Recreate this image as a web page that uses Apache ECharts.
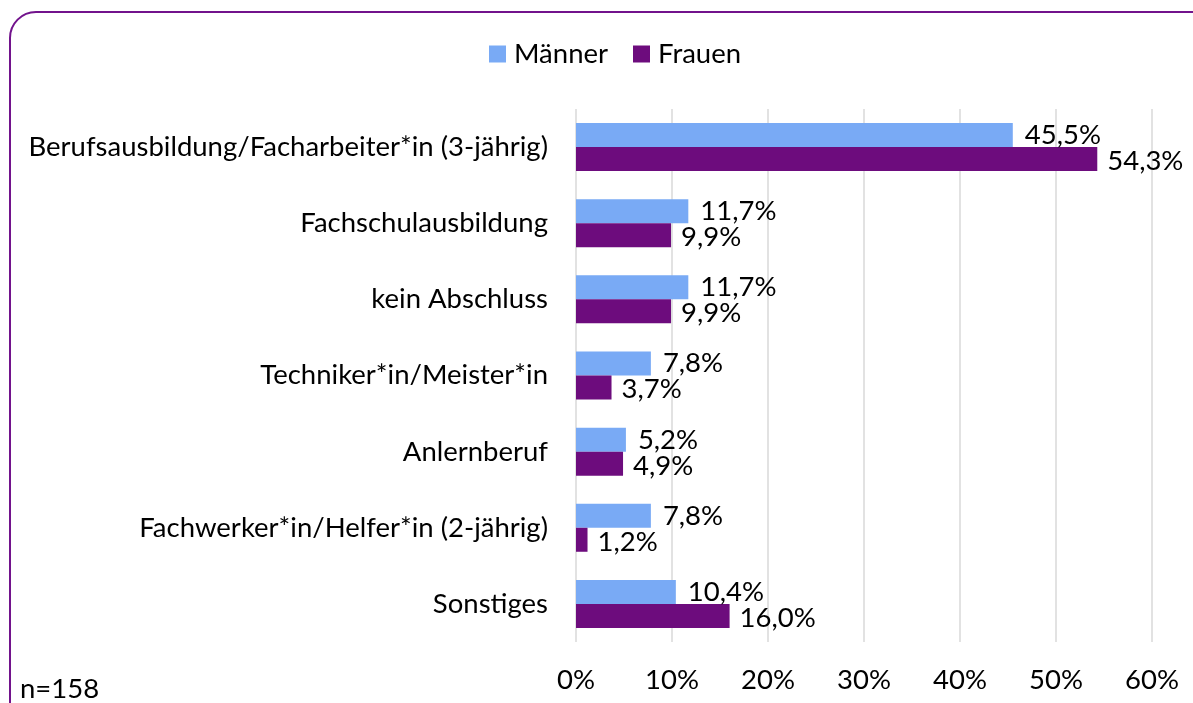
<!DOCTYPE html>
<html><head><meta charset="utf-8">
<script src="https://cdn.jsdelivr.net/npm/echarts@6/dist/echarts.min.js"></script>
<style>html,body{margin:0;padding:0;background:#fff}#c{width:1193px;height:703px}</style>
</head><body><div id="c"></div>
<script>
const categories = ["Berufsausbildung/Facharbeiter*in (3-jährig)", "Fachschulausbildung", "kein Abschluss", "Techniker*in/Meister*in", "Anlernberuf", "Fachwerker*in/Helfer*in (2-jährig)", "Sonstiges"];
const maenner = [45.5, 11.7, 11.7, 7.8, 5.2, 7.8, 10.4];
const frauen = [54.3, 9.9, 9.9, 3.7, 4.9, 1.2, 16.0];
const seriesNames = ["Männer", "Frauen"];
const xTicks = [0, 10, 20, 30, 40, 50, 60];
const note = "n=158";

const FONT = "Lato";
const FS = 27.5;
const fmt = v => v.toFixed(1).replace('.', ',') + '%';
const chart = echarts.init(document.getElementById('c'), null, {renderer: 'canvas'});
chart.setOption({
  animation: false,
  backgroundColor: '#fff',
  textStyle: {fontFamily: FONT},
  legend: {
    top: 35, left: 484, itemWidth: 17, itemHeight: 17, itemGap: 25,
    icon: 'rect',
    textStyle: {fontFamily: FONT, fontSize: FS, color: '#000', padding: [0, 0, 0, 3]},
    data: seriesNames
  },
  grid: {left: 576, right: 41, top: 109, bottom: 61, containLabel: false},
  xAxis: {
    type: 'value', min: xTicks[0], max: xTicks[xTicks.length - 1], interval: 10,
    axisLine: {show: false}, axisTick: {show: false},
    splitLine: {lineStyle: {color: '#D9D9D9', width: 1.5}},
    axisLabel: {fontFamily: FONT, fontSize: FS, color: '#000', margin: 24, formatter: v => v + '%'}
  },
  yAxis: {
    type: 'category', data: categories, inverse: true,
    axisLine: {show: false}, axisTick: {show: false},
    axisLabel: {fontFamily: FONT, fontSize: FS, color: '#000', margin: 28}
  },
  series: [
    {name: seriesNames[0], type: 'bar', data: maenner, barGap: '0%', barCategoryGap: '37%',
     itemStyle: {color: '#79AAF5'},
     label: {show: true, position: 'right', distance: 12, offset: [0, 0], fontFamily: FONT, fontSize: FS, color: '#000', formatter: p => fmt(p.value)}},
    {name: seriesNames[1], type: 'bar', data: frauen, barGap: '0%', barCategoryGap: '37%',
     itemStyle: {color: '#6D0C7D'},
     label: {show: true, position: 'right', distance: 10, offset: [0, 2], fontFamily: FONT, fontSize: FS, color: '#000', formatter: p => fmt(p.value)}}
  ],
  graphic: [
    {type: 'rect', shape: {x: 10, y: 12, width: 1215, height: 730, r: 26},
     style: {fill: 'none', stroke: '#72138C', lineWidth: 2}, silent: true},
    {type: 'text', left: 20, top: 675, style: {text: note, fontFamily: FONT, fontSize: FS, fill: '#000'}}
  ]
});
</script></body></html>
